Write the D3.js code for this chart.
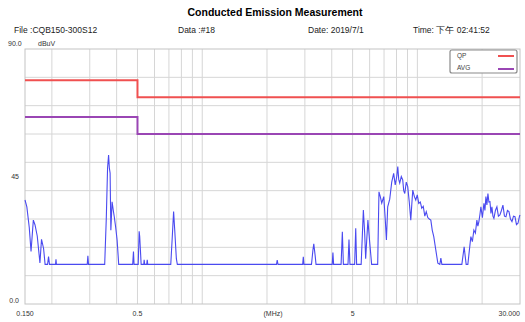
<!DOCTYPE html>
<html>
<head>
<meta charset="utf-8">
<script src="https://cdn.jsdelivr.net/npm/d3@7"></script>
<style>
  body { margin: 0; background: #fff; }
  svg { font-family: "Liberation Sans", Arial, sans-serif; }
</style>
</head>
<body>
<div id="chart"></div>
<script>
// header texts
var titleText = "Conducted Emission Measurement";
var infoTexts = ["File :CQB150-300S12", "Data :#18", "Date: 2019/7/1", "Time: 下午 02:41:52"];

// axis ticks
var xTickVals = [0.15, 0.5, 5, 30];
var xTickLabels = ["0.150", "0.5", "5", "30.000"];
var yTickVals = [90, 45, 0];
var yTickLabels = ["90.0", "45", "0.0"];
var xGridVals = [0.2, 0.3, 0.4, 0.5, 0.6, 0.7, 0.8, 0.9, 1, 2, 3, 4, 5, 6, 7, 8, 9, 10, 20];
var yGridVals = [10, 20, 30, 40, 50, 60, 70, 80];

// limit lines (CISPR class A)
var qpFreq = [0.15, 0.5, 0.5, 30];
var qpLevel = [79, 79, 73, 73];
var avgFreq = [0.15, 0.5, 0.5, 30];
var avgLevel = [66, 66, 60, 60];

// measured trace, MHz / dBuV
var traceFreq = [
  0.150, 0.153, 0.157, 0.160, 0.164, 0.167, 0.171, 0.176, 0.179, 0.183, 0.186, 0.191, 0.193, 0.195,
  0.208, 0.209, 0.210, 0.292, 0.294, 0.296,
  0.352, 0.358, 0.363, 0.367, 0.370, 0.373, 0.376, 0.378, 0.381, 0.386, 0.390, 0.396, 0.402, 0.409,
  0.475, 0.479, 0.482, 0.504, 0.509, 0.512, 0.516, 0.520, 0.535, 0.537, 0.540, 0.552, 0.555, 0.558,
  0.714, 0.726, 0.736, 0.745, 0.758, 0.766,
  2.214, 2.231, 2.250, 2.93, 2.95, 2.97,
  3.22, 3.27, 3.30, 3.35, 3.38, 4.02, 4.05, 4.08, 4.42, 4.48, 4.53, 4.76, 4.81, 4.86,
  5.11, 5.17, 5.22, 5.48, 5.61, 5.69, 5.75, 5.81, 5.89, 6.00, 6.13,
  6.54, 6.63, 6.72, 6.83, 6.98, 7.09, 7.18, 7.28, 7.44, 7.60, 7.76, 7.89, 8.02, 8.11, 8.19, 8.28,
  8.42, 8.55, 8.64, 8.74, 8.88, 9.02, 9.17, 9.32, 9.42, 9.52, 9.68, 9.83, 9.99, 10.15, 10.32,
  10.48, 10.65, 10.83, 11.00, 11.18, 11.36, 11.55, 11.73, 11.92, 12.18, 12.45, 12.72, 12.86, 13.00,
  16.10, 16.36, 16.50, 16.68, 16.86, 17.17, 17.45, 17.73, 18.02, 18.31, 18.61, 18.91, 19.11, 19.32,
  19.53, 19.74, 20.06, 20.39, 20.61, 20.83, 21.05, 21.28, 21.51, 21.75, 21.98, 22.21, 22.45, 22.69,
  23.06, 23.43, 23.81, 24.20, 24.59, 24.99, 25.40, 25.81, 26.23, 26.66, 27.09, 27.53, 27.98, 28.43,
  28.89, 29.36, 29.84, 30.0
];
var traceLevel = [
  36.7, 34.3, 27.0, 18.5, 29.6, 27.9, 24.0, 14.5, 22.8, 19.6, 14.0, 14.0, 16.7, 14.0,
  14.0, 15.8, 14.0, 14.0, 17.0, 14.0,
  14.0, 30.0, 48.0, 52.6, 48.0, 46.2, 26.0, 30.0, 36.1, 33.0, 30.8, 27.0, 22.6, 14.0,
  14.0, 18.5, 14.0, 14.0, 25.7, 23.8, 19.0, 14.0, 14.0, 15.6, 14.0, 14.0, 15.6, 14.0,
  14.0, 24.0, 32.6, 26.0, 16.0, 14.0,
  14.0, 15.5, 14.0, 14.0, 16.7, 14.0,
  14.0, 19.0, 21.2, 17.0, 14.0, 14.0, 18.2, 14.0, 14.0, 25.5, 14.0, 14.0, 22.8, 14.0,
  14.0, 26.7, 14.0, 14.0, 33.2, 25.0, 16.0, 22.0, 29.6, 22.0, 14.0,
  14.0, 39.6, 38.0, 35.6, 37.9, 30.0, 22.6, 34.3, 37.0, 43.0, 46.1, 42.0, 45.0, 48.5, 44.0, 42.7,
  45.0, 43.8, 40.0, 39.0, 43.0, 41.4, 36.0, 29.6, 35.0, 40.2, 38.0, 36.7, 38.5, 35.5, 36.0,
  33.8, 34.5, 31.0, 32.6, 30.5, 30.0, 29.6, 26.0, 23.8, 19.1, 14.4, 14.0, 16.2, 14.0,
  14.0, 18.0, 20.2, 17.0, 14.0, 14.0, 19.0, 23.8, 22.0, 26.1, 25.0, 29.6, 27.5, 29.1,
  31.5, 34.3, 30.5, 35.5, 33.0, 37.9, 35.0, 39.0, 36.0, 36.1, 32.0, 34.3, 31.0, 30.2,
  33.0, 34.3, 31.0, 31.4, 33.0, 34.9, 31.0, 30.8, 33.0, 32.6, 30.0, 29.1, 31.0, 30.8,
  28.0, 28.5, 31.0, 31.4
];

var width = 525, height = 322;
var margin = { top: 49, right: 5, bottom: 18, left: 25 };
var plotW = width - margin.left - margin.right;
var plotH = height - margin.top - margin.bottom;

var svg = d3.select("#chart").append("svg")
    .attr("width", width)
    .attr("height", height);

var xScale = d3.scaleLog().domain([0.15, 30]).range([margin.left, margin.left + plotW]);
var yScale = d3.scaleLinear().domain([0, 90]).range([margin.top + plotH, margin.top]);

// Title and info row
svg.append("text")
    .attr("x", 275).attr("y", 16)
    .attr("text-anchor", "middle")
    .style("font-size", "10.5px").style("font-weight", "bold")
    .text(titleText);

var infoX = [14, 178, 308, 413];
svg.selectAll(".info").data(infoTexts).enter().append("text")
    .attr("class", "info")
    .attr("x", function (d, i) { return infoX[i]; })
    .attr("y", 33)
    .style("font-size", "8.5px").style("fill", "#222")
    .text(function (d) { return d; });

// grid
var grid = svg.append("g");
grid.selectAll(".vg").data(xGridVals).enter().append("line")
    .attr("x1", function (d) { return xScale(d); }).attr("x2", function (d) { return xScale(d); })
    .attr("y1", yScale(0)).attr("y2", yScale(90))
    .attr("stroke", "#d6d6d6").attr("stroke-width", 1);
grid.selectAll(".hg").data(yGridVals).enter().append("line")
    .attr("x1", xScale(0.15)).attr("x2", xScale(30))
    .attr("y1", function (d) { return yScale(d); }).attr("y2", function (d) { return yScale(d); })
    .attr("stroke", "#d6d6d6").attr("stroke-width", 1);

svg.append("rect")
    .attr("x", xScale(0.15)).attr("y", yScale(90))
    .attr("width", xScale(30) - xScale(0.15)).attr("height", yScale(0) - yScale(90))
    .attr("fill", "none").attr("stroke", "#c4c4c4").attr("stroke-width", 1);

// axis labels
svg.selectAll(".yl").data(yTickVals).enter().append("text")
    .attr("x", function (d) { return d === 90 ? 8 : 19; })
    .attr("y", function (d) { return d === 90 ? 46 : yScale(d) + (d === 0 ? -1 : 2); })
    .attr("text-anchor", function (d) { return d === 90 ? "start" : "end"; })
    .style("font-size", "7px").style("fill", "#333")
    .text(function (d, i) { return yTickLabels[i]; });
svg.append("text").attr("x", 38).attr("y", 46)
    .style("font-size", "7px").style("fill", "#333").text("dBuV");

svg.selectAll(".xl").data(xTickVals).enter().append("text")
    .attr("x", function (d) { return xScale(d); })
    .attr("y", 316)
    .attr("text-anchor", function (d) { return d === 30 ? "end" : "middle"; })
    .style("font-size", "7px").style("fill", "#333")
    .text(function (d, i) { return xTickLabels[i]; });
svg.append("text").attr("x", 273).attr("y", 316).attr("text-anchor", "middle")
    .style("font-size", "7px").style("fill", "#333").text("(MHz)");

// limits
var line = d3.line()
    .x(function (d) { return xScale(d[0]); })
    .y(function (d) { return yScale(d[1]); });

svg.append("path")
    .datum(d3.zip(qpFreq, qpLevel))
    .attr("d", line).attr("fill", "none")
    .attr("stroke", "#f05050").attr("stroke-width", 2);
svg.append("path")
    .datum(d3.zip(avgFreq, avgLevel))
    .attr("d", line).attr("fill", "none")
    .attr("stroke", "#9a46b4").attr("stroke-width", 2);

// trace
svg.append("path")
    .datum(d3.zip(traceFreq, traceLevel))
    .attr("d", line).attr("fill", "none")
    .attr("stroke", "#4a4af0").attr("stroke-width", 1.1);

// legend
var lg = svg.append("g");
lg.append("rect")
    .attr("x", 450).attr("y", 50).attr("width", 67).attr("height", 23).attr("rx", 2)
    .attr("fill", "#fff").attr("stroke", "#8a8a8a").attr("stroke-width", 1.2);
lg.append("text").attr("x", 457).attr("y", 58).style("font-size", "6.5px").style("fill", "#444").text("QP");
lg.append("text").attr("x", 457).attr("y", 70).style("font-size", "6.5px").style("fill", "#444").text("AVG");
lg.append("line").attr("x1", 498).attr("x2", 514).attr("y1", 56).attr("y2", 56)
    .attr("stroke", "#f05050").attr("stroke-width", 2);
lg.append("line").attr("x1", 498).attr("x2", 514).attr("y1", 69).attr("y2", 69)
    .attr("stroke", "#9a46b4").attr("stroke-width", 2);
</script>
</body>
</html>
